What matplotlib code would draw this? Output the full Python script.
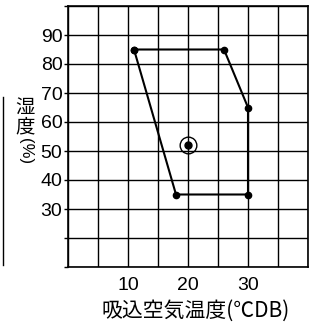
import matplotlib
matplotlib.use("Agg")
from matplotlib import pyplot as plt
from matplotlib.lines import Line2D

# operating range (inlet air temp, humidity)
range_temp = [11, 26, 30, 30, 18, 11]
range_hum = [85, 85, 65, 35, 35, 85]
# rated point
rated_temp = [20]
rated_hum = [52]

x_ticks = [10, 20, 30]
y_ticks = [30, 40, 50, 60, 70, 80, 90]

plt.rcParams['font.family'] = ['Liberation Sans', 'Noto Sans CJK JP', 'DejaVu Sans']

fig = plt.figure(figsize=(3.21, 3.22), dpi=100)
ax = fig.add_axes([68 / 321, 1 - 267 / 322, 240 / 321, 261 / 322])

ax.set_xlim(0, 40)
ax.set_ylim(10, 100)
ax.set_xticks(range(0, 41, 5))
ax.set_yticks(range(10, 101, 10))
ax.grid(True, color='black', linewidth=1.0)
ax.set_axisbelow(True)
for s in ax.spines.values():
    s.set_linewidth(1.2)

ax.set_xticklabels([str(v) if v in x_ticks else '' for v in range(0, 41, 5)], fontsize=14)
ax.set_yticklabels([str(v) if v in y_ticks else '' for v in range(10, 101, 10)], fontsize=14)
ax.tick_params(axis='x', length=0, pad=7)
ax.tick_params(axis='y', length=3, width=1.0, pad=1)

ax.plot(range_temp, range_hum, color='black', linewidth=1.5,
        marker='o', markersize=4.5, zorder=3)
ax.plot(rated_temp, rated_hum, 'o', color='black', markersize=5, zorder=4)
ax.plot(rated_temp, rated_hum, 'o', markerfacecolor='none', markeredgecolor='black',
        markersize=12, markeredgewidth=1.0, zorder=4)

ax.set_xlabel('吸込空気温度(℃DB)', fontsize=15,
              family=['Noto Sans CJK JP', 'DejaVu Sans'])
ax.xaxis.set_label_coords(0.53, -0.125)

# vertical ylabel: kanji upright, (%) rotated
fig.text(25 / 321, 1 - 107 / 322, '湿', fontsize=14, ha='center', va='center',
         family=['Noto Sans CJK JP'])
fig.text(25 / 321, 1 - 127 / 322, '度', fontsize=14, ha='center', va='center',
         family=['Noto Sans CJK JP'])
fig.text(25 / 321, 1 - 151 / 322, '(%)', fontsize=12, ha='center', va='center',
         rotation=270, family=['Liberation Sans'])

# edge of neighbouring figure in the scan
fig.add_artist(Line2D([3 / 321, 3 / 321], [1 - 97 / 322, 1 - 265 / 322],
                      transform=fig.transFigure, color='black', linewidth=1.0))

fig.savefig('out.png', dpi=100)
